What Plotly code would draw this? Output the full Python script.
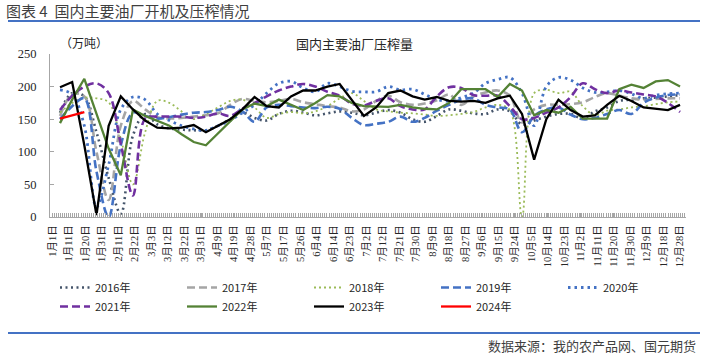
import numpy as np
import plotly.graph_objects as go

# ---------------- data ----------------
tick_labels = ["1月1日", "1月11日", "1月20日", "1月31日", "2月11日", "2月22日", "3月3日", "3月12日",
               "3月22日", "3月31日", "4月9日", "4月19日", "4月28日", "5月7日", "5月17日", "5月26日",
               "6月4日", "6月14日", "6月23日", "7月2日", "7月12日", "7月21日", "7月30日", "8月9日",
               "8月18日", "8月27日", "9月6日", "9月15日", "9月24日", "10月5日", "10月14日", "10月23日",
               "11月2日", "11月11日", "11月20日", "11月30日", "12月9日", "12月18日", "12月28日"]

weeks = list(range(52))

y2016 = [160, 190, 185, 130, 60, 5, 125, 158, 142, 136, 134, 133, 133, 140, 150, 160, 152, 148, 158, 163,
         160, 156, 159, 162, 160, 156, 160, 164, 160, 150, 146, 155, 165, 163, 159, 158, 165, 162, 142, 148,
         154, 158, 158, 151, 162, 168, 178, 180, 182, 183, 185, 187]
y2017 = [155, 188, 185, 100, 26, 140, 178, 165, 153, 151, 152, 154, 156, 159, 172, 181, 178, 176, 178, 181,
         176, 173, 170, 168, 162, 165, 178, 186, 176, 172, 174, 179, 188, 172, 185, 191, 194, 186, 145, 165,
         172, 172, 173, 176, 184, 190, 186, 182, 180, 181, 182, 182]
y2018 = [160, 175, 183, 182, 176, 120, 50, 130, 178, 175, 162, 150, 158, 168, 178, 180, 168, 152, 158, 161,
         159, 162, 170, 182, 190, 178, 165, 162, 160, 159, 157, 155, 156, 158, 161, 168, 172, 164, 0, 190,
         195, 190, 192, 170, 156, 163, 165, 168, 170, 173, 176, 177]
y2019 = [150, 170, 182, 70, 0, 110, 160, 155, 151, 153, 157, 160, 161, 164, 169, 162, 146, 168, 172, 170,
         168, 167, 169, 166, 152, 141, 143, 146, 154, 146, 152, 163, 172, 180, 182, 172, 168, 165, 130, 155,
         165, 168, 157, 150, 152, 158, 164, 158, 175, 183, 187, 188]
y2020 = [195, 188, 140, 15, 80, 165, 184, 180, 158, 148, 140, 135, 133, 140, 148, 160, 172, 190, 205, 208,
         198, 192, 205, 200, 193, 192, 192, 200, 195, 196, 188, 180, 178, 183, 190, 205, 211, 214, 190, 140,
         200, 214, 210, 198, 191, 192, 194, 189, 182, 187, 189, 190]
y2021 = [164, 186, 200, 205, 190, 112, 33, 151, 154, 154, 154, 152, 154, 159, 155, 166, 175, 185, 194, 200,
         204, 200, 192, 186, 174, 171, 178, 182, 170, 165, 165, 185, 199, 198, 187, 186, 186, 170, 150, 152,
         160, 168, 184, 205, 196, 190, 194, 191, 188, 185, 175, 161]
y2022 = [144, 180, 212, 158, 105, 64, 165, 155, 147, 140, 127, 115, 110, 128, 146, 165, 174, 170, 180, 172,
         164, 175, 187, 185, 175, 170, 170, 169, 172, 168, 166, 165, 175, 196, 196, 196, 184, 204, 194, 156,
         164, 160, 169, 151, 151, 151, 196, 203, 198, 208, 210, 200]
y2023 = [199, 207, 110, 3, 140, 185, 165, 148, 137, 136, 137, 141, 130, 140, 150, 165, 184, 170, 168, 185,
         194, 194, 200, 204, 180, 155, 168, 190, 194, 185, 180, 184, 178, 177, 178, 175, 182, 186, 158, 88,
         150, 180, 164, 154, 156, 172, 186, 178, 168, 166, 164, 172]
y2024 = [151, 156, 161] + [None] * 49

series = [
    ("2016年", y2016, dict(color="#44546A", width=2.6, dash="2px,3.5px"), "spline"),
    ("2017年", y2017, dict(color="#A5A5A5", width=2.6, dash="8px,4px"), "spline"),
    ("2018年", y2018, dict(color="#9BBB59", width=1.8, dash="2px,3px"), "spline"),
    ("2019年", y2019, dict(color="#4472C4", width=2.6, dash="8px,4px"), "spline"),
    ("2020年", y2020, dict(color="#4472C4", width=2.8, dash="2.5px,4px"), "spline"),
    ("2021年", y2021, dict(color="#7030A0", width=2.6, dash="8px,4px"), "spline"),
    ("2022年", y2022, dict(color="#548235", width=2.3), "linear"),
    ("2023年", y2023, dict(color="#000000", width=2.3), "linear"),
    ("2024年", y2024, dict(color="#FF0000", width=2.3), "linear"),
]

# ---------------- layout geometry ----------------
W, H = 706, 357
ML, MR, MT, MB = 50, 20, 54, 140
PW, PH = W - ML - MR, H - MT - MB


def px2x(px):
    return (px - ML) / PW


def py2y(py):
    return (H - MB - py) / PH


fig = go.Figure()
for name, vals, line, shape in series:
    fig.add_trace(go.Scatter(x=weeks, y=vals, name=name, mode="lines",
                             line=dict(shape=shape, **line), connectgaps=False))

tick_pos = np.linspace(-0.63, 51.0, len(tick_labels))

serif_cjk = "Liberation Serif, Noto Sans CJK SC"
sans_cjk = "Noto Sans CJK SC"

fig.update_layout(
    width=W, height=H,
    margin=dict(l=ML, r=MR, t=MT, b=MB, pad=0),
    paper_bgcolor="white", plot_bgcolor="white",
    showlegend=True,
    legend=dict(orientation="h", x=px2x(55), xanchor="left", y=py2y(273), yanchor="top",
                entrywidth=82, entrywidthmode="pixels", tracegroupgap=0,
                font=dict(family=sans_cjk, size=11, color="#262626"),
                bgcolor="rgba(0,0,0,0)"),
    xaxis=dict(range=[-0.823, 51.49], tickmode="array", tickvals=tick_pos, ticktext=tick_labels,
               tickangle=-90, showgrid=False, zeroline=False, showline=True, linecolor="#A6A6A6",
               linewidth=1, ticks="inside", ticklen=4, tickcolor="#A6A6A6", ticklabelstandoff=3,
               minor=dict(dtick=0.17, tick0=-0.82, ticks="inside", ticklen=4, tickcolor="#A6A6A6",
                          showgrid=False),
               tickfont=dict(family=serif_cjk, size=10.5, color="#262626")),
    yaxis=dict(range=[0, 250], dtick=50, tick0=0, showgrid=False, zeroline=False, showline=True,
               linecolor="#A6A6A6", linewidth=1, ticks="inside", ticklen=4, tickcolor="#A6A6A6",
               ticklabelstandoff=10,
               tickfont=dict(family="Liberation Serif", size=12.5, color="#262626")),
)

annotations = [
    dict(text="图表 4  国内主要油厂开机及压榨情况", x=px2x(4), y=py2y(11), xanchor="left", yanchor="middle",
         font=dict(family=sans_cjk, size=15, color="#3F3F3F")),
    dict(text="国内主要油厂压榨量", x=px2x(354), y=py2y(44), xanchor="center", yanchor="middle",
         font=dict(family=sans_cjk, size=13, color="#262626")),
    dict(text="（万吨）", x=px2x(84), y=py2y(42), xanchor="center", yanchor="middle",
         font=dict(family=sans_cjk, size=12, color="#262626")),
    dict(text="数据来源：我的农产品网、国元期货", x=px2x(698), y=py2y(345), xanchor="right", yanchor="middle",
         font=dict(family=sans_cjk, size=13, color="#3F3F3F")),
]
for a in annotations:
    a.update(xref="paper", yref="paper", showarrow=False)
fig.update_layout(annotations=annotations)

fig.add_shape(type="line", xref="paper", yref="paper", x0=px2x(8), x1=px2x(700), y0=py2y(21), y1=py2y(21),
              line=dict(color="#4472C4", width=2))
fig.add_shape(type="line", xref="paper", yref="paper", x0=px2x(8), x1=px2x(700), y0=py2y(333), y1=py2y(333),
              line=dict(color="#4472C4", width=2))

fig.write_html("out.html", config={"displayModeBar": False},
               post_script="document.body.style.margin='0px';document.body.style.overflow='hidden';")
